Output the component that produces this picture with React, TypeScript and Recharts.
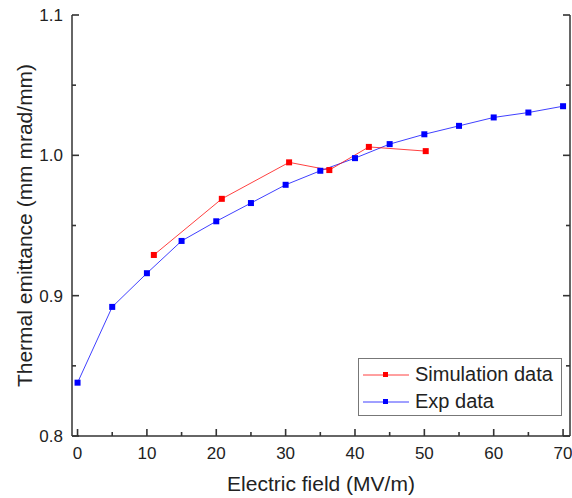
import React from 'react';
import { LineChart, Line, XAxis, YAxis, Label } from 'recharts';

const expField = [0, 5, 10, 15, 20, 25, 30, 35, 40, 45, 50, 55, 60, 65, 70];
const expEmit = [0.838, 0.892, 0.916, 0.939, 0.953, 0.966, 0.979, 0.989, 0.998, 1.008, 1.015, 1.021, 1.027, 1.0305, 1.035];
const simField = [11, 20.8, 30.5, 36.3, 42, 50.2];
const simEmit = [0.929, 0.969, 0.995, 0.9895, 1.006, 1.003];

const xTicks = [0, 5, 10, 15, 20, 25, 30, 35, 40, 45, 50, 55, 60, 65, 70];
const yTicks = [0.8, 0.85, 0.9, 0.95, 1.0, 1.05, 1.1];

const expData = expField.map((x, i) => ({ x, y: expEmit[i] }));
const simData = simField.map((x, i) => ({ x, y: simEmit[i] }));

const FONT = 'Liberation Sans, Arial, sans-serif';
const AXIS = '#333';
const RED = '#ff0000';
const BLUE = '#0000ff';

const isMajorX = (v: number) => Math.round(v) % 10 === 0;
const isMajorY = (v: number) => Math.abs(Math.round(v * 10) - v * 10) < 1e-6;

const BottomTick = (p: any) => {
  const v = p.payload.value;
  const major = isMajorX(v);
  return (
    <g>
      <path d={`M${p.x},${p.y}V${p.y - (major ? 7 : 4)}`} stroke={AXIS} strokeWidth={1.6} fill="none" />
      {major && (
        <text x={p.x} y={p.y + 23} textAnchor="middle" fontSize={17} fill="#222" fontFamily={FONT}>{v}</text>
      )}
    </g>
  );
};

const TopTick = (p: any) => {
  const major = isMajorX(p.payload.value);
  return <path d={`M${p.x},${p.y}V${p.y + (major ? 7 : 4)}`} stroke={AXIS} strokeWidth={1.6} fill="none" />;
};

const LeftTick = (p: any) => {
  const v = p.payload.value;
  const major = isMajorY(v);
  return (
    <g>
      <path d={`M${p.x},${p.y}H${p.x + (major ? 7 : 4)}`} stroke={AXIS} strokeWidth={1.6} fill="none" />
      {major && (
        <text x={p.x - 9} y={p.y + 6} textAnchor="end" fontSize={17} fill="#222" fontFamily={FONT}>{v.toFixed(1)}</text>
      )}
    </g>
  );
};

const RightTick = (p: any) => {
  const major = isMajorY(p.payload.value);
  return <path d={`M${p.x},${p.y}H${p.x - (major ? 7 : 4)}`} stroke={AXIS} strokeWidth={1.6} fill="none" />;
};

const square = (color: string) => (p: any) => (
  <rect key={`${color}-${p.index}`} x={p.cx - 3} y={p.cy - 3} width={6} height={6} fill={color} />
);

const legendItems = [
  { name: 'Simulation data', color: RED },
  { name: 'Exp data', color: BLUE },
];

const LegendBox = () => (
  <div
    style={{
      position: 'absolute', left: 358, top: 358, width: 202, height: 56,
      border: '1px solid #777', fontFamily: FONT, fontSize: 20, color: '#222', background: '#fff',
      boxSizing: 'content-box',
    }}
  >
    {legendItems.map((s, i) => (
      <div key={s.name} style={{ display: 'flex', alignItems: 'center', height: 27, marginTop: i === 0 ? 2 : 0, lineHeight: '27px' }}>
        <svg width={54} height={10} style={{ marginLeft: 2 }}>
          <line x1={2} x2={48} y1={5} y2={5} stroke={s.color} strokeWidth={1} strokeOpacity={0.75} />
          <rect x={22} y={2} width={5} height={5} fill={s.color} />
        </svg>
        <span>{s.name}</span>
      </div>
    ))}
  </div>
);

export default function App() {
  return (
    <div style={{ position: 'absolute', left: 0, top: 0, width: 572, height: 498 }}>
      <LineChart width={572} height={498} margin={{ top: 15, right: 0, bottom: 0, left: 0 }}>
        <XAxis
          xAxisId="bottom"
          dataKey="x"
          type="number"
          domain={[-0.8, 71]}
          ticks={xTicks}
          allowDataOverflow
          height={62}
          tickSize={0}
          tickMargin={0}
          tickLine={false}
          tick={<BottomTick />}
          axisLine={{ stroke: AXIS, strokeWidth: 1.5 }}
          interval={0}
        >
          <Label value="Electric field (MV/m)" position="insideBottom" offset={7} style={{ fontSize: 21, fontFamily: FONT, fill: '#222' }} />
        </XAxis>
        <XAxis
          xAxisId="top"
          orientation="top"
          dataKey="x"
          type="number"
          domain={[-0.8, 71]}
          ticks={xTicks}
          allowDataOverflow
          height={0}
          tickSize={0}
          tickMargin={0}
          tickLine={false}
          tick={<TopTick />}
          axisLine={{ stroke: AXIS, strokeWidth: 1.5 }}
          interval={0}
        />
        <YAxis
          yAxisId="left"
          type="number"
          domain={[0.8, 1.1]}
          ticks={yTicks}
          allowDataOverflow
          width={72}
          tickSize={0}
          tickMargin={0}
          tickLine={false}
          tick={<LeftTick />}
          axisLine={{ stroke: AXIS, strokeWidth: 1.5 }}
          interval={0}
        >
          <Label
            content={(props: any) => {
              const vb = props.viewBox;
              const cx = vb.x + 24;
              const cy = vb.y + vb.height / 2;
              return (
                <text x={cx} y={cy} transform={`rotate(-90 ${cx} ${cy})`} textAnchor="middle" dominantBaseline="central" fontSize={21} fontFamily={FONT} fill="#222">
                  Thermal emittance (mm mrad/mm)
                </text>
              );
            }}
          />
        </YAxis>
        <YAxis
          yAxisId="right"
          orientation="right"
          type="number"
          domain={[0.8, 1.1]}
          ticks={yTicks}
          allowDataOverflow
          width={2}
          tickSize={0}
          tickMargin={0}
          tickLine={false}
          tick={<RightTick />}
          axisLine={{ stroke: AXIS, strokeWidth: 1.5 }}
          interval={0}
        />
        <Line
          xAxisId="bottom"
          yAxisId="left"
          data={expData}
          dataKey="y"
          name="Exp data"
          stroke={BLUE}
          strokeOpacity={0.75}
          strokeWidth={1}
          dot={square(BLUE)}
          activeDot={false}
          isAnimationActive={false}
        />
        <Line
          xAxisId="bottom"
          yAxisId="left"
          data={simData}
          dataKey="y"
          name="Simulation data"
          stroke={RED}
          strokeOpacity={0.75}
          strokeWidth={1}
          dot={square(RED)}
          activeDot={false}
          isAnimationActive={false}
        />
      </LineChart>
      <LegendBox />
    </div>
  );
}
